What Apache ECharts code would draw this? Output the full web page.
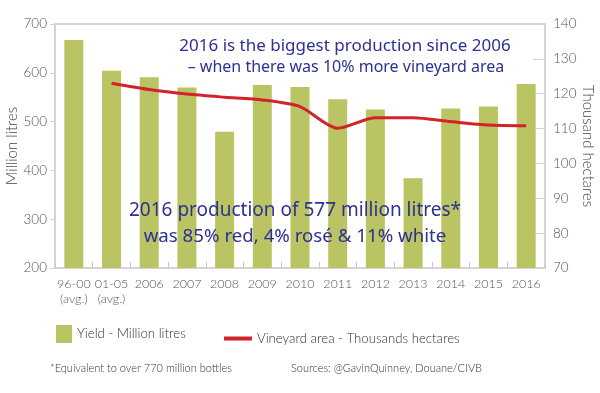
<!DOCTYPE html>
<html><head><meta charset="utf-8">
<script src="https://cdn.jsdelivr.net/npm/echarts@6/dist/echarts.min.js"></script>
<style>html,body{margin:0;padding:0;background:#fff}#c{width:600px;height:393px}</style>
</head><body><div id="c"></div>
<script>
const categories = ['96-00\n(avg.)', '01-05\n(avg.)', '2006', '2007', '2008', '2009', '2010', '2011', '2012', '2013', '2014', '2015', '2016'];
const yieldML = [667, 604, 591, 570, 479, 575, 571, 546, 525, 384, 527, 531, 577];
const vineyardKha = [null, 123, 121.2, 119.9, 119, 118.2, 116.3, 110.1, 113.1, 113.1, 112, 111, 110.8];
const leftTicks = [200, 700, 100];
const rightTicks = [70, 140, 10];

const FONT = 'Lato';
const FW = 300;
const NOTE = {fontFamily: 'Noto Sans', fill: '#2e3192', align: 'center', verticalAlign: 'middle'};
const chart = echarts.init(document.getElementById('c'), null, {renderer: 'canvas'});
chart.setOption({
  animation: false,
  textStyle: {fontFamily: FONT, fontWeight: FW},
  grid: {left: 55, right: 55, top: 24, bottom: 125, show: true, borderColor: '#d4d4d4', borderWidth: 2, containLabel: false, outerBoundsMode: 'none'},
  legend: [
    {data: ['Yield - Million litres'], left: 56, top: 325, itemWidth: 16, itemHeight: 18, icon: 'rect',
     textStyle: {fontFamily: FONT, fontWeight: FW, fontSize: 13.2, color: '#333'}, padding: 0, itemGap: 0},
    {data: [{name: 'Vineyard area - Thousands hectares', icon: 'rect', itemStyle: {color: '#d2232a'}}], left: 224, top: 332, itemWidth: 28, itemHeight: 4,
     textStyle: {fontFamily: FONT, fontWeight: FW, fontSize: 13.2, color: '#333'}, padding: 0}
  ],
  xAxis: {
    type: 'category', data: categories,
    axisLine: {show: true, lineStyle: {color: '#d4d4d4', width: 2}},
    axisTick: {show: true, inside: true, length: 6, lineStyle: {color: '#c8c8c8'}},
    axisLabel: {color: '#555', fontSize: 12.5, fontWeight: FW, lineHeight: 15, margin: 8, interval: 0, fontFamily: FONT}
  },
  yAxis: [
    {type: 'value', min: leftTicks[0], max: leftTicks[1], interval: leftTicks[2],
     name: 'Million litres', nameLocation: 'middle', nameRotate: 90, nameGap: 35, nameMoveOverlap: false,
     nameTextStyle: {color: '#444', fontSize: 15, fontWeight: FW, fontFamily: FONT},
     splitLine: {show: false},
     axisLine: {show: true, lineStyle: {color: '#d4d4d4', width: 2}},
     axisTick: {show: true, length: 5, lineStyle: {color: '#d4d4d4'}},
     axisLabel: {color: '#555', fontSize: 13.5, fontWeight: FW, margin: 8, fontFamily: FONT, padding: [3, 0, 0, 0]}},
    {type: 'value', min: rightTicks[0], max: rightTicks[1], interval: rightTicks[2], position: 'right',
     name: 'Thousand hectares', nameLocation: 'middle', nameRotate: -90, nameGap: 35, nameMoveOverlap: false,
     nameTextStyle: {color: '#444', fontSize: 15, fontWeight: FW, fontFamily: FONT},
     splitLine: {show: false},
     axisLine: {show: true, lineStyle: {color: '#d4d4d4', width: 2}},
     axisTick: {show: true, inside: true, length: 12, lineStyle: {color: '#d4d4d4'}},
     axisLabel: {color: '#555', fontSize: 13.5, fontWeight: FW, margin: 8, fontFamily: FONT, padding: [3, 0, 0, 0]}}
  ],
  series: [
    {name: 'Yield - Million litres', type: 'bar', data: yieldML, barWidth: 19,
     itemStyle: {color: '#bac463'}, yAxisIndex: 0},
    {name: 'Vineyard area - Thousands hectares', type: 'line', data: vineyardKha, yAxisIndex: 1,
     symbol: 'none', smooth: 0.25, lineStyle: {color: '#d2232a', width: 3}, itemStyle: {color: '#d2232a'}}
  ],
  graphic: [
    {type: 'text', z: 100, x: 345, y: 46, style: Object.assign({text: '2016 is the biggest production since 2006', fontSize: 17}, NOTE)},
    {type: 'text', z: 100, x: 346, y: 67, style: Object.assign({text: '– when there was 10% more vineyard area', fontSize: 16}, NOTE)},
    {type: 'text', z: 100, x: 295, y: 211, style: Object.assign({text: '2016 production of 577 million litres*', fontSize: 19}, NOTE)},
    {type: 'text', z: 100, x: 295, y: 237, style: Object.assign({text: 'was 85% red, 4% rosé & 11% white', fontSize: 18.7}, NOTE)},
    {type: 'text', z: 100, x: 50, y: 368, style: {text: '*Equivalent to over 770 million bottles', verticalAlign: 'middle', fontFamily: FONT, fontWeight: FW, fontSize: 11, fill: '#333'}},
    {type: 'text', z: 100, x: 291, y: 368, style: {text: 'Sources: @GavinQuinney, Douane/CIVB', verticalAlign: 'middle', fontFamily: FONT, fontWeight: FW, fontSize: 11, fill: '#333'}}
  ]
});
</script>
</body></html>
